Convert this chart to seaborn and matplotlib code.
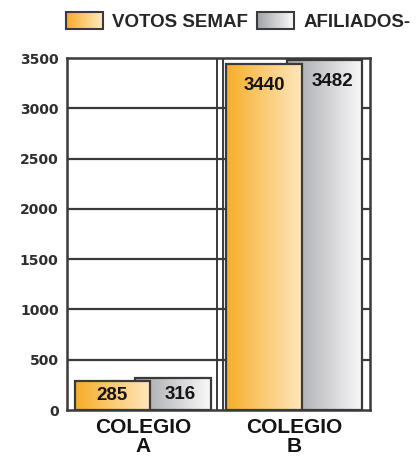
import numpy as np
import pandas as pd
import matplotlib
matplotlib.use("Agg")
import matplotlib.pyplot as plt
import matplotlib.patches as mpatches
from matplotlib.colors import LinearSegmentedColormap
from matplotlib.legend_handler import HandlerBase
import seaborn as sns

# ---- data ----
colegios = ["COLEGIO\nA", "COLEGIO\nB"]
series = ["VOTOS SEMAF", "AFILIADOS-"]
votos_semaf = [285, 3440]
afiliados = [316, 3482]
y_ticks = [0, 500, 1000, 1500, 2000, 2500, 3000, 3500]

df = pd.DataFrame({
    "colegio": colegios * 2,
    "serie": [series[0]] * 2 + [series[1]] * 2,
    "valor": votos_semaf + afiliados,
})

sns.set_theme(style="white")
plt.rcParams["font.family"] = ["Liberation Sans", "DejaVu Sans"]

ORANGE = LinearSegmentedColormap.from_list("orange", ["#F6AE2A", "#FFE7BD"])
GRAY = LinearSegmentedColormap.from_list("gray", ["#A2A3A9", "#F9F9F9"])
EDGE = "#3a3a3a"

fig = plt.figure(figsize=(4.17, 4.61), dpi=100)
ax = fig.add_axes([67 / 417, 51 / 461, 303 / 417, 352 / 461])

sns.barplot(data=df, x="colegio", y="valor", hue="serie", order=colegios,
            hue_order=series, palette=["#F8B535", "#D0D0D4"], width=0.8,
            dodge=True, legend=False, edgecolor=EDGE, linewidth=1.6, ax=ax)

# widen the bars so the second series overlaps behind the first
grad = np.linspace(0, 1, 256).reshape(1, -1)
for level, (container, cmap) in enumerate(zip(ax.containers, [ORANGE, GRAY])):
    for p in container.patches:
        c = p.get_x() + p.get_width() / 2
        p.set_x(c - 0.25)
        p.set_width(0.5)
        p.set_zorder(4 - level * 2)
        p.set_facecolor("none")
        im = ax.imshow(grad, cmap=cmap, aspect="auto",
                       extent=[p.get_x(), p.get_x() + p.get_width(), 0, p.get_height()],
                       zorder=p.get_zorder() - 0.5, interpolation="bilinear")
        im.set_clip_path(p)

# value labels
for level, (container, vals) in enumerate(zip(ax.containers, [votos_semaf, afiliados])):
    for i, (p, v) in enumerate(zip(container.patches, vals)):
        if level == 0:
            xc = p.get_x() + p.get_width() / 2
        else:
            left = ax.containers[0].patches[i]
            xc = (left.get_x() + left.get_width() + p.get_x() + p.get_width()) / 2
        yc = v / 2 if v < 1000 else v - 215
        ax.text(xc, yc, f"{v}", ha="center", va="center", fontsize=13.5,
                fontweight="bold", color="#141414", zorder=10)

ax.set_xlim(-0.5, 1.5)
ax.set_ylim(0, 3500)
ax.set_yticks(y_ticks)
ax.set_yticklabels([str(t) for t in y_ticks], fontsize=10, fontweight="bold",
                   color="#2e2e2e", family="DejaVu Sans")
ax.set_xticks([0, 1])
ax.set_xticklabels(colegios, fontsize=15, fontweight="bold", color="#141414",
                   linespacing=0.98)
ax.tick_params(axis="both", length=0)
ax.tick_params(axis="y", pad=6)
ax.tick_params(axis="x", pad=6)
ax.set_xlabel("")
ax.set_ylabel("")

# horizontal rules and the divider between the two groups
for t in y_ticks[1:-1]:
    ax.axhline(t, color=EDGE, lw=1.6, zorder=0.5)
ax.axvline(0.49, color=EDGE, lw=1.4, zorder=0.5)
ax.axvline(0.527, color=EDGE, lw=1.4, zorder=0.5)
for s in ax.spines.values():
    s.set_visible(True)
    s.set_color(EDGE)
    s.set_linewidth(1.8)


class GradientHandle(HandlerBase):
    def __init__(self, cmap):
        super().__init__()
        self.cmap = cmap

    def create_artists(self, legend, orig_handle, xdescent, ydescent,
                       width, height, fontsize, trans):
        n = 24
        arts = []
        for k in range(n):
            r = mpatches.Rectangle((-xdescent + width * k / n, -ydescent),
                                   width / n + 0.3, height,
                                   facecolor=self.cmap(k / (n - 1)),
                                   edgecolor="none", transform=trans)
            arts.append(r)
        arts.append(mpatches.Rectangle((-xdescent, -ydescent), width, height,
                                       facecolor="none", edgecolor=EDGE,
                                       lw=1.5, transform=trans))
        return arts


h1 = mpatches.Patch(facecolor="#F8B535")
h2 = mpatches.Patch(facecolor="#D0D0D4")
fig.legend([h1, h2], series, loc="upper left",
           bbox_to_anchor=(66 / 417, 1 - 12 / 461), ncol=2, frameon=False,
           prop={"family": "Liberation Sans", "weight": "bold", "size": 13.5},
           handler_map={h1: GradientHandle(ORANGE), h2: GradientHandle(GRAY)},
           handlelength=1.95, handleheight=1.05, handletextpad=0.5,
           columnspacing=0.5, borderpad=0, borderaxespad=0)

fig.savefig("out.png", dpi=100)
